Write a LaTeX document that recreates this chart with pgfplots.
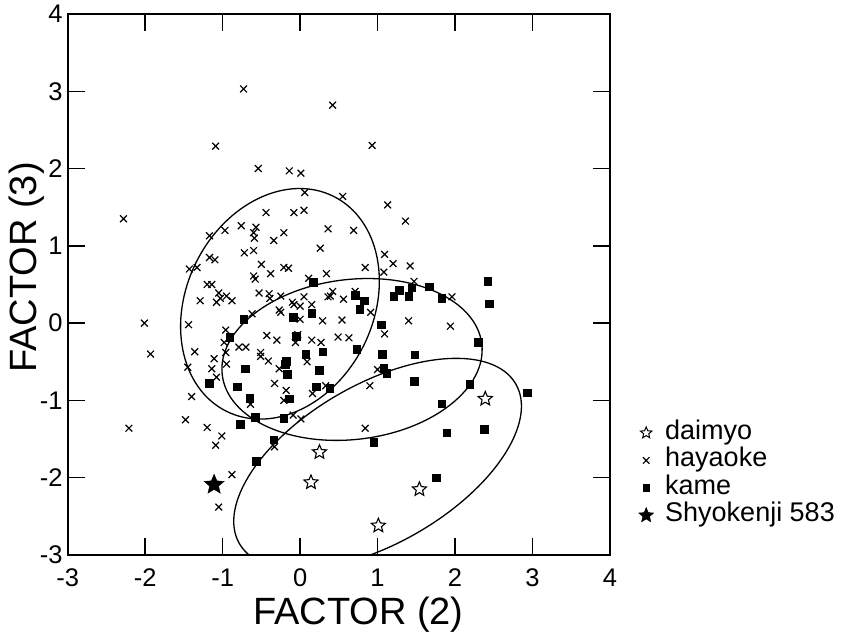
\documentclass[border=0pt]{standalone}
\usepackage{fontspec}
\setmainfont{Liberation Sans}
\usepackage{pgfplots}
\pgfplotsset{compat=1.18}

% five-pointed star outline (filled with the mark fill colour)
\pgfdeclareplotmark{pstar}{%
  \pgfpathmoveto{\pgfpointpolar{90}{\pgfplotmarksize}}%
  \pgfpathlineto{\pgfpointpolar{126}{0.45\pgfplotmarksize}}%
  \pgfpathlineto{\pgfpointpolar{162}{\pgfplotmarksize}}%
  \pgfpathlineto{\pgfpointpolar{198}{0.45\pgfplotmarksize}}%
  \pgfpathlineto{\pgfpointpolar{234}{\pgfplotmarksize}}%
  \pgfpathlineto{\pgfpointpolar{270}{0.45\pgfplotmarksize}}%
  \pgfpathlineto{\pgfpointpolar{306}{\pgfplotmarksize}}%
  \pgfpathlineto{\pgfpointpolar{342}{0.45\pgfplotmarksize}}%
  \pgfpathlineto{\pgfpointpolar{18}{\pgfplotmarksize}}%
  \pgfpathlineto{\pgfpointpolar{54}{0.45\pgfplotmarksize}}%
  \pgfpathclose
  \pgfusepathqfillstroke
}

\begin{document}
\begin{tikzpicture}
\begin{axis}[
    name=ax,
    scale only axis,
    width=542.3pt, height=541pt,
    xmin=-3, xmax=4, ymin=-3, ymax=4,
    xtick={-3,...,4}, ytick={-3,...,4},
    xticklabels={-3,-2,-1,0,1,2,3,4},
    yticklabels={-3,-2,-1,0,1,2,3,4},
    tick align=inside,
    major tick length=17pt,
    tick style={line width=1.4pt, black},
    axis line style={line width=1.8pt},
    tick label style={font=\fontsize{25.5}{30}\selectfont, inner sep=0pt},
    xticklabel style={yshift=-13.5pt},
    yticklabel style={xshift=-5pt},
    xlabel={FACTOR (2)},
    ylabel={FACTOR (3)},
    label style={font=\fontsize{38}{45}\selectfont},
    xlabel style={at={([xshift=19.5pt,yshift=-70pt]axis description cs:0.5,0)}, anchor=base},
    ylabel style={at={([xshift=-30.7pt,yshift=17pt]axis description cs:0,0.5)}, anchor=base},
    legend style={at={(1,0)}, anchor=north west, xshift=27pt, yshift=136pt,
        draw=none, fill=none, inner sep=0pt, row sep=0pt, column sep=10pt,
        font=\fontsize{27}{32}\selectfont,
        nodes={inner sep=0pt, text height=20pt, text depth=7.5pt}},
    legend cell align=left,
    legend image code/.code={\path[draw=none, fill=none] (-9pt,-2pt) rectangle (9pt,2pt);
        \draw[#1] plot coordinates {(0pt,0pt)};},
]

% group ellipses
\draw[line width=1.3pt, rotate around={63.5:(axis cs:-0.26,0.25)}]
    (axis cs:-0.26,0.25) ellipse [x radius=1.55, y radius=1.21];
\draw[line width=1.3pt, rotate around={6.8:(axis cs:0.67,-0.47)}]
    (axis cs:0.67,-0.47) ellipse [x radius=1.687, y radius=1.035];
\draw[line width=1.3pt, rotate around={30:(axis cs:1.0,-1.82)}]
    (axis cs:1.0,-1.82) ellipse [x radius=2.06, y radius=1.03];

% hayaoke
\addplot[only marks, mark=x, mark size=4.8pt, line width=1.2pt, black, forget plot] coordinates {
(-0.73,3.03) (-1.09,2.29) (-2.28,1.35) (-0.54,2.00) (-0.14,1.97) (0.01,1.94) (0.06,1.69)
(-0.44,1.43) (-0.08,1.43) (0.05,1.46) (-1.17,1.13) (-0.97,1.20) (-0.76,1.26) (-0.57,1.24)
(-0.60,1.17) (-0.59,1.10) (-0.34,1.07) (-0.21,1.17) (0.36,1.22) (0.26,0.97) (-0.72,0.91)
(-0.60,0.94) (-1.43,0.70) (-1.33,0.72) (-1.17,0.85) (-1.10,0.82) (-0.50,0.76) (-0.60,0.61)
(-0.58,0.57) (-0.38,0.64) (-0.21,0.72) (-0.15,0.71) (0.11,0.58) (0.34,0.64) (-1.20,0.50)
(-1.14,0.50) (-1.29,0.29) (-1.08,0.27) (-1.03,0.32) (-0.95,0.35) (-0.88,0.29) (-1.05,0.39)
(-0.53,0.39) (-0.40,0.38) (-0.39,0.32) (-0.25,0.35) (-0.10,0.27) (-0.08,0.24) (0.00,0.22)
(0.05,0.34) (0.15,0.24) (-0.27,0.17) (-0.25,0.14) (0.36,0.34) (-0.62,0.12)
(0.42,2.82) (0.93,2.30) (0.55,1.64) (1.13,1.53) (1.36,1.32) (0.69,1.20) (1.09,0.89)
(1.20,0.77) (1.08,0.66) (1.42,0.74) (0.84,0.72) (1.47,0.54) (0.42,0.41) (0.39,0.35)
(0.56,0.31) (0.71,0.41) (1.96,0.34) (0.91,0.14) (1.40,0.03) (0.29,0.03) (0.54,0.04)
(-2.01,0.00) (-1.93,-0.40) (-2.21,-1.36) (-1.44,-0.02) (-1.36,-0.37) (-1.45,-0.57)
(-1.40,-0.95) (-1.48,-1.25) (-1.20,-1.35) (-1.01,-1.46) (-1.09,-1.58) (-0.88,-1.96)
(-1.05,-2.38) (-0.96,-0.09) (-0.98,-0.25) (-0.96,-0.38) (-1.11,-0.46) (-1.14,-0.59)
(-1.08,-0.70) (-0.95,-0.53) (-0.79,-0.31) (-0.70,-0.31) (-0.43,-0.16) (-0.30,-0.22)
(-0.51,-0.38) (-0.51,-0.43) (-0.41,-0.49) (-0.27,-0.59) (-0.06,-0.17) (-0.03,-0.15)
(-0.06,-0.25) (0.15,-0.22) (0.27,-0.25) (0.09,-0.50) (0.00,0.05) (-0.33,-0.78)
(-0.18,-0.87) (-0.21,-1.00) (0.16,-0.91) (-0.64,-1.05) (-0.09,-1.19) (0.01,-1.24)
(-0.33,-1.60) (0.33,-0.81)
(1.94,-0.04) (1.09,-0.14) (0.49,-0.18) (0.63,-0.19) (1.00,-0.60) (0.90,-0.81) (0.84,-1.36)
};

% kame
\addplot[only marks, mark=square*, mark size=3.8pt, black, forget plot] coordinates {
(0.17,0.53) (0.15,0.13) (-0.09,0.08) (-0.73,0.05) (2.42,0.54) (2.44,0.25) (0.71,0.36)
(0.83,0.29) (0.77,0.18) (1.21,0.35) (1.28,0.43) (1.40,0.35) (1.44,0.46) (1.67,0.47)
(1.83,0.32) (-0.91,-0.18) (-0.18,-0.49) (-0.19,-0.53) (0.07,-0.40) (0.29,-0.37)
(-0.71,-0.59) (-0.17,-0.66) (0.25,-0.61) (-1.17,-0.78) (-0.81,-0.82) (0.21,-0.82)
(0.38,-0.84) (-0.65,-0.97) (-0.14,-0.98) (-0.58,-1.22) (-0.21,-1.23) (-0.77,-1.31)
(-0.34,-1.51) (-0.57,-1.79) (1.05,-0.02) (2.30,-0.25) (0.73,-0.34) (1.06,-0.40)
(1.48,-0.41) (1.08,-0.58) (1.12,-0.65) (1.47,-0.75) (2.19,-0.79) (2.93,-0.90)
(1.83,-1.04) (1.89,-1.42) (2.38,-1.37) (0.95,-1.54) (1.76,-2.00) (-0.05,-0.17)
};

% daimyo
\addplot[only marks, mark=pstar, mark size=7.4pt, line width=1.1pt, black,
    mark options={fill=white}, forget plot] coordinates {
(0.25,-1.67) (0.14,-2.06) (2.39,-0.98) (1.54,-2.15) (1.01,-2.62)
};

% Shyokenji 583
\addplot[only marks, mark=pstar, mark size=10.5pt, black,
    mark options={fill=black}, forget plot] coordinates {(-1.11,-2.09)};

\addlegendimage{only marks, mark=pstar, mark size=6pt, line width=1pt, black, mark options={fill=white}}
\addlegendentry{daimyo}
\addlegendimage{only marks, mark=x, mark size=4.6pt, line width=1.1pt, black}
\addlegendentry{hayaoke}
\addlegendimage{only marks, mark=square*, mark size=3.3pt, black}
\addlegendentry{kame}
\addlegendimage{only marks, mark=pstar, mark size=7.9pt, black, mark options={fill=black}}
\addlegendentry{Shyokenji 583}
\end{axis}
\path ([xshift=-67.7pt,yshift=-81pt]ax.south west) rectangle ([xshift=231pt,yshift=14pt]ax.north east);
\end{tikzpicture}
\end{document}
